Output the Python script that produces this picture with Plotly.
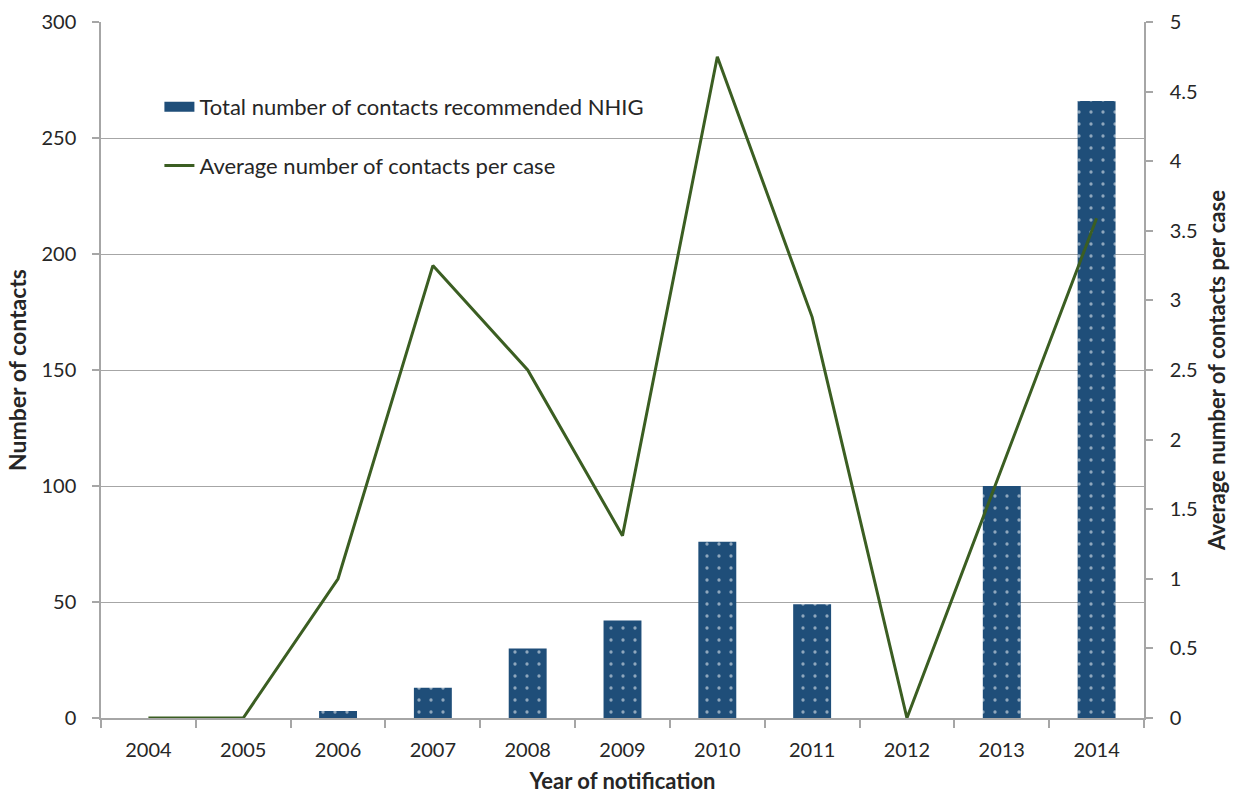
import plotly.graph_objects as go

years = ["2004", "2005", "2006", "2007", "2008", "2009", "2010", "2011", "2012", "2013", "2014"]
total_contacts = [0, 0, 3, 13, 30, 42, 76, 49, 0, 100, 266]
avg_contacts = [0, 0, 1.0, 3.25, 2.5, 1.31, 4.75, 2.88, 0, 1.79, 3.59]

font_family = "Lato, 'Open Sans', sans-serif"
navy = "#1F4E79"
green = "#3B5E22"
axis_gray = "#A6A6A6"

fig = go.Figure()
fig.add_trace(go.Bar(
    x=years, y=total_contacts, name="Total number of contacts recommended NHIG",
    marker=dict(color=navy, line=dict(width=0),
                pattern=dict(shape=".", fgcolor="white", bgcolor=navy, size=12, solidity=0.06)),
    width=0.4, showlegend=False,
))
fig.add_trace(go.Scatter(
    x=years, y=avg_contacts, name="Average number of contacts per case",
    mode="lines", line=dict(color=green, width=3), yaxis="y2", showlegend=False,
))
# legend-only entries
fig.add_trace(go.Scatter(
    x=[None], y=[None], name="Total number of contacts recommended NHIG",
    mode="lines", line=dict(color=navy, width=14), legendgroup="a",
))
fig.add_trace(go.Scatter(
    x=[None], y=[None], name="Average number of contacts per case",
    mode="lines", line=dict(color=green, width=3), legendgroup="b",
))

fig.add_shape(type="rect", xref="paper", yref="paper", x0=0.002, x1=0.55, y0=0.75, y1=0.915,
              fillcolor="white", line=dict(width=0), layer="between")

fig.update_layout(
    width=1233, height=794,
    margin=dict(l=101, r=89, t=22, b=76),
    paper_bgcolor="white", plot_bgcolor="white",
    font=dict(family=font_family, size=20, color="#262626"),
    showlegend=True,
    legend=dict(x=0.056, y=0.908, xanchor="left", yanchor="top", bgcolor="rgba(0,0,0,0)",
                font=dict(size=22, color="#262626"), tracegroupgap=27),
    xaxis=dict(type="category", showline=True, linecolor=axis_gray, linewidth=1.5,
               ticks="outside", tickson="boundaries", ticklen=8, tickcolor=axis_gray, tickwidth=1.5,
               showgrid=False, automargin=False, ticklabelstandoff=13,
               title=dict(text="<b>Year of notification</b>", font=dict(size=22), standoff=17)),
    yaxis=dict(range=[0, 300], dtick=50, showline=True, linecolor=axis_gray, linewidth=1.5,
               ticks="outside", ticklen=7, tickcolor=axis_gray, tickwidth=1.5,
               showgrid=True, gridcolor=axis_gray, gridwidth=1, zeroline=False,
               automargin=False, ticklabelstandoff=12,
               title=dict(text="<b>Number of contacts</b>", font=dict(size=23), standoff=8)),
    yaxis2=dict(range=[0, 5], dtick=0.5, overlaying="y", side="right", showline=True,
                linecolor=axis_gray, linewidth=1.5, ticks="outside", ticklen=7, tickcolor=axis_gray,
                tickwidth=1.5, showgrid=False, zeroline=False, automargin=False, ticklabelstandoff=13,
                title=dict(text="<b>Average number of contacts per case</b>", font=dict(size=22), standoff=13)),
)

fig.write_html("out.html")
